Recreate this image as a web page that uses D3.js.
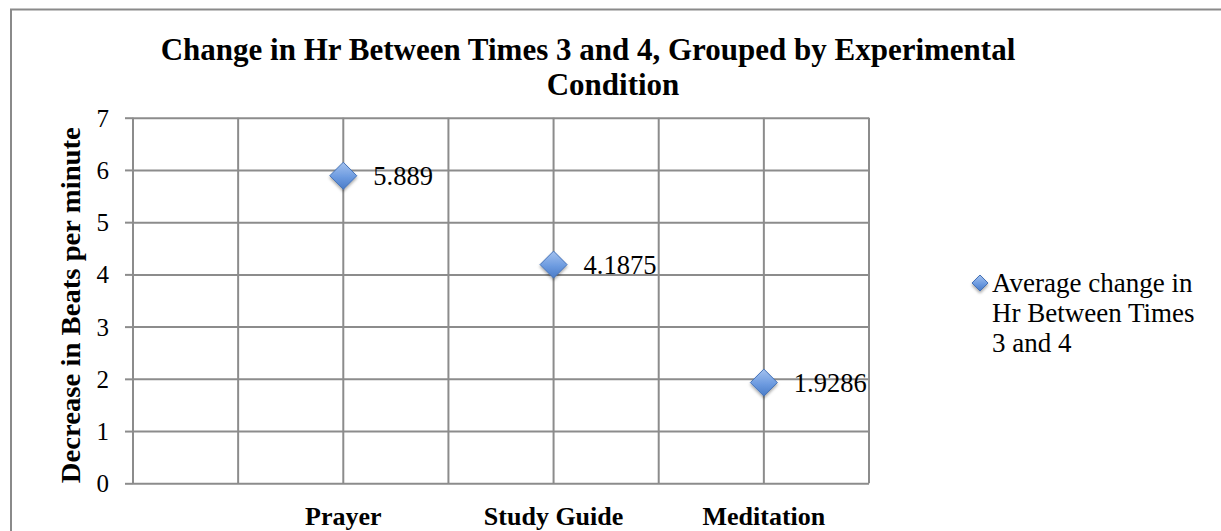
<!DOCTYPE html>
<html><head><meta charset="utf-8">
<script src="https://cdn.jsdelivr.net/npm/d3@7"></script>
<style>body{margin:0;background:#fff}svg{display:block}</style>
</head><body>
<svg id="c" width="1221" height="531"></svg>
<script>
const titleLines = ["Change in Hr Between Times 3 and 4, Grouped by Experimental", "Condition"];
const categories = ["Prayer", "Study Guide", "Meditation"];
const categoryX = [2, 4, 6];
const values = [5.889, 4.1875, 1.9286];
const valueLabels = ["5.889", "4.1875", "1.9286"];
const yTicks = [0, 1, 2, 3, 4, 5, 6, 7];
const xGrid = [0, 1, 2, 3, 4, 5, 6, 7];
const yAxisTitle = "Decrease in Beats per minute";
const legendLines = ["Average change in", "Hr Between Times", "3 and 4"];

const svg = d3.select("#c");
const serif = "'Liberation Serif', 'Times New Roman', serif";
const grid = "#8c8c8c";

// frame
svg.append("path").attr("d", "M11,531 V9.5 H1221").attr("fill", "none").attr("stroke", "#8a8a8a").attr("stroke-width", 2);

const x = d3.scaleLinear().domain([0, 7]).range([133, 869]);
const y = d3.scaleLinear().domain([0, 7]).range([483.3, 117.7]);

// defs
const defs = svg.append("defs");
const g1 = defs.append("linearGradient").attr("id", "dg").attr("x1", 0).attr("y1", 0).attr("x2", 0).attr("y2", 1);
g1.append("stop").attr("offset", "0%").attr("stop-color", "#a4c2ef");
g1.append("stop").attr("offset", "55%").attr("stop-color", "#6d9be0");
g1.append("stop").attr("offset", "100%").attr("stop-color", "#4a7cc8");
const f = defs.append("filter").attr("id", "sh").attr("x", "-50%").attr("y", "-50%").attr("width", "200%").attr("height", "200%");
f.append("feDropShadow").attr("dx", 0).attr("dy", 2).attr("stdDeviation", 1.6).attr("flood-color", "#000").attr("flood-opacity", 0.35);

// grid
const gy = svg.append("g").attr("transform", `translate(${x(0)},0)`)
  .call(d3.axisLeft(y).tickValues(yTicks).tickSize(8).tickPadding(16).tickFormat(d3.format("d")));
gy.select(".domain").remove();
gy.selectAll(".tick line").attr("stroke", grid).attr("stroke-width", 2).attr("x2", x(7) - x(0));
gy.selectAll(".tick line").clone().attr("x1", -8).attr("x2", 0);
gy.selectAll(".tick text").attr("font-family", serif).attr("font-size", 25).attr("fill", "#000").attr("dy", "0.34em");

svg.append("g").selectAll("line").data(xGrid).join("line")
  .attr("x1", d => x(d)).attr("x2", d => x(d)).attr("y1", y(7)).attr("y2", y(0))
  .attr("stroke", grid).attr("stroke-width", 2);

// category labels
svg.append("g").selectAll("text").data(categories).join("text")
  .attr("x", (d, i) => x(categoryX[i])).attr("y", 525)
  .attr("text-anchor", "middle").attr("font-family", serif).attr("font-weight", "bold").attr("font-size", 26)
  .text(d => d);

// y axis title
svg.append("text").attr("transform", `translate(80,${(y(0) + 127) / 2}) rotate(-90)`)
  .attr("text-anchor", "middle").attr("font-family", serif).attr("font-weight", "bold").attr("font-size", 27)
  .attr("textLength", 356).attr("lengthAdjust", "spacingAndGlyphs")
  .text(yAxisTitle);

// title
svg.append("g").selectAll("text").data(titleLines).join("text")
  .attr("x", (d, i) => i === 0 ? 588 : 613).attr("y", (d, i) => i === 0 ? 60 : 95)
  .attr("text-anchor", "middle").attr("font-family", serif).attr("font-weight", "bold").attr("font-size", 31)
  .text(d => d);

// diamonds
const diamond = r => `M0,${-r}L${r},0L0,${r}L${-r},0Z`;
svg.append("g").selectAll("path").data(values).join("path")
  .attr("transform", (d, i) => `translate(${x(categoryX[i])},${y(d)})`)
  .attr("d", diamond(13.5)).attr("fill", "url(#dg)").attr("stroke", "#4472b8").attr("stroke-width", 1)
  .attr("filter", "url(#sh)");

svg.append("g").selectAll("text").data(valueLabels).join("text")
  .attr("x", (d, i) => x(categoryX[i]) + 30).attr("y", (d, i) => y(values[i]) + 9)
  .attr("font-family", serif).attr("font-size", 26.5).text(d => d);

// legend
svg.append("path").attr("transform", "translate(980,283)").attr("d", diamond(8))
  .attr("fill", "url(#dg)").attr("stroke", "#4472b8").attr("stroke-width", 1).attr("filter", "url(#sh)");
svg.append("g").selectAll("text").data(legendLines).join("text")
  .attr("x", 992).attr("y", (d, i) => 292 + i * 30)
  .attr("font-family", serif).attr("font-size", 27).text(d => d);
</script>
</body></html>
